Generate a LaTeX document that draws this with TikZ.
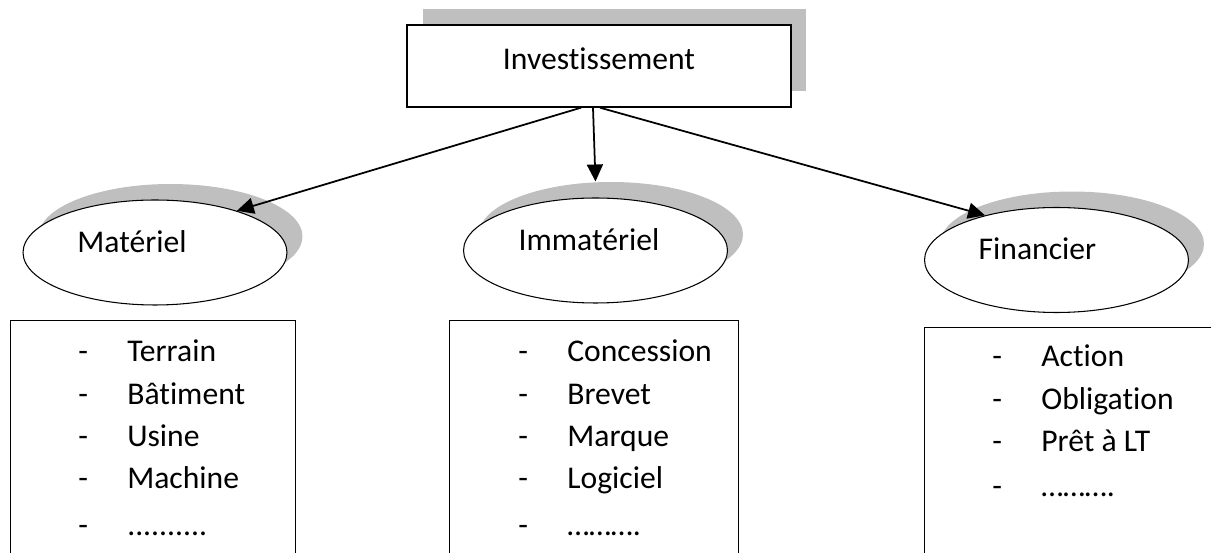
\documentclass[tikz,border=0pt]{standalone}
\usepackage{fontspec}
\setmainfont{Carlito}[Ligatures=NoCommon]
\usetikzlibrary{arrows.meta,shapes.geometric,shadows,positioning}
\definecolor{shadowgray}{RGB}{191,191,191}

\begin{document}
\begin{tikzpicture}
[x=0.02cm,y=-0.02cm,>={Triangle[length=0.34cm,width=0.32cm]},font=\fontsize{18}{24}\selectfont]
\tikzstyle{raised}=[general shadow={shadow xshift=0.31cm,shadow yshift=0.32cm,fill=shadowgray}]
\tikzstyle{topbox}=[rectangle,draw,line width=0.8pt,fill=white,raised,minimum width=7.68cm,minimum height=1.64cm,text height=0.5cm,text depth=0.34cm]
\tikzstyle{kind}=[ellipse,draw,line width=0.6pt,fill=white,raised,minimum width=5.28cm,minimum height=2.1cm,inner sep=0pt]
\tikzstyle{listbox}=[rectangle,draw,line width=0.6pt,minimum width=5.76cm,minimum height=8cm,anchor=north west]
\tikzstyle{items}=[inner sep=0pt,anchor=base west]
\tikzstyle{every label}=[text height=0.42cm,text depth=0.42cm]
\useasboundingbox (0,0) rectangle (1211,553);
\clip (0,0) rectangle (1211,553);

\node[topbox] (inv) at (599,66) {Investissement};

\node[kind,label={[xshift=-0.46cm]center:Matériel}] (mat) at (155,252.5) {};
\node[kind,label={[xshift=-0.13cm]center:Immatériel}] (imm) at (595.5,250.5) {};
\node[kind,label={[xshift=-0.38cm]center:Financier}] (fin) at (1056.5,260) {};

\node[listbox,minimum width=5.7cm] (matbox) at (10,320) {};
\node[listbox,minimum width=5.78cm] (immbox) at (449,320) {};
\node[listbox,minimum width=6.2cm] (finbox) at (924,327) {};

\node[items] (matlist) at (78,362) {\begin{tabular}[t]{@{}p{0.98cm}@{}l@{}}
- & Terrain\\
- & Bâtiment\\
- & Usine\\
- & Machine\\[0.1cm]
- & ..........
\end{tabular}};
\node[items] (immlist) at (518,362) {\begin{tabular}[t]{@{}p{0.98cm}@{}l@{}}
- & Concession\\
- & Brevet\\
- & Marque\\
- & Logiciel\\[0.1cm]
- & ……….
\end{tabular}};
\node[items] (finlist) at (992,367) {\begin{tabular}[t]{@{}p{0.98cm}@{}l@{}}
- & Action\\
- & Obligation\\
- & Prêt à LT\\[0.06cm]
- & ……….
\end{tabular}};

\draw[->,line width=1pt] ([xshift=-0.36cm]inv.south) -- (mat.27);
\draw[->,line width=1pt] ([xshift=-0.12cm]inv.south) -- ([yshift=0.32cm]imm.north);
\draw[->,line width=1pt] ([xshift=0.02cm]inv.south) -- (fin.148);
\end{tikzpicture}
\end{document}
